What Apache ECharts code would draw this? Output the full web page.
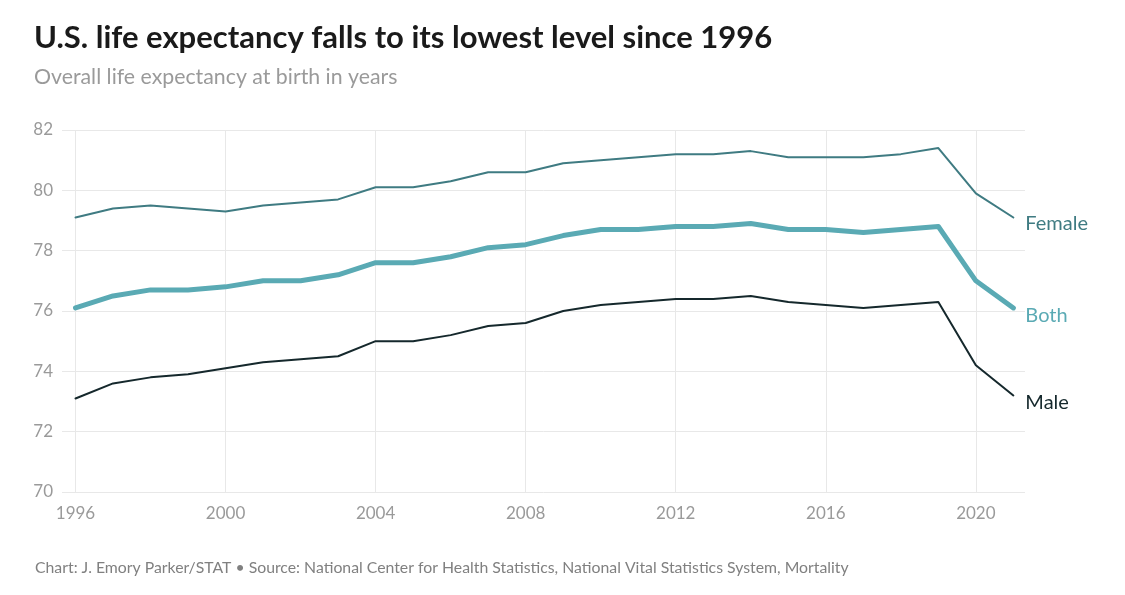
<!DOCTYPE html>
<html>
<head>
<meta charset="utf-8">
<script src="https://cdn.jsdelivr.net/npm/echarts@6/dist/echarts.min.js"></script>
<style>
html,body{margin:0;padding:0;background:#fff;}
#chart{width:1125px;height:595px;}
</style>
</head>
<body>
<div id="chart"></div>
<script>
var years = [1996,1997,1998,1999,2000,2001,2002,2003,2004,2005,2006,2007,2008,2009,2010,2011,2012,2013,2014,2015,2016,2017,2018,2019,2020,2021];
var female = [79.1,79.4,79.5,79.4,79.3,79.5,79.6,79.7,80.1,80.1,80.3,80.6,80.6,80.9,81.0,81.1,81.2,81.2,81.3,81.1,81.1,81.1,81.2,81.4,79.9,79.1];
var both = [76.1,76.5,76.7,76.7,76.8,77.0,77.0,77.2,77.6,77.6,77.8,78.1,78.2,78.5,78.7,78.7,78.8,78.8,78.9,78.7,78.7,78.6,78.7,78.8,77.0,76.1];
var male = [73.1,73.6,73.8,73.9,74.1,74.3,74.4,74.5,75.0,75.0,75.2,75.5,75.6,76.0,76.2,76.3,76.4,76.4,76.5,76.3,76.2,76.1,76.2,76.3,74.2,73.2];
var xTicks = [1996,2000,2004,2008,2012,2016,2020];

var FONT = 'Lato';

function pairs(vals){
	var out = [];
	for(var i=0;i<years.length;i++){
		out.push([years[i], vals[i]]);
	}
	return out;
}

function lineSeries(name, vals, color, width, labelOffset){
	return {
		name: name,
		type: 'line',
		data: pairs(vals),
		showSymbol: false,
		symbol: 'none',
		lineStyle: {color: color, width: width, join: 'round', cap: 'round'},
		endLabel: {
			show: true,
			formatter: '{a}',
			color: color,
			fontFamily: FONT,
			fontSize: 20,
			distance: 12,
			offset: labelOffset
		},
		emphasis: {disabled: true},
		silent: true,
		animation: false
	};
}

var myChart = echarts.init(document.getElementById('chart'));
var option = {
	backgroundColor: '#fff',
	animation: false,
	title: [{
		text: 'U.S. life expectancy falls to its lowest level since 1996',
		left: 29,
		top: 17,
		textStyle: {fontFamily: FONT, fontSize: 31, fontWeight: 'bold', color: '#1a1a1a'},
		subtext: 'Overall life expectancy at birth in years',
		subtextStyle: {fontFamily: FONT, fontSize: 21.3, color: '#9a9a9a'},
		itemGap: 14
	}, {
		text: 'Chart: J. Emory Parker/STAT \u2022 Source: National Center for Health Statistics, National Vital Statistics System, Mortality',
		left: 30,
		top: 555,
		textStyle: {fontFamily: FONT, fontSize: 15.8, fontWeight: 'normal', color: '#808080'}
	}],
	grid: {
		left: 62,
		right: 100,
		top: 130,
		bottom: 103,
		containLabel: false
	},
	xAxis: {
		type: 'value',
		min: 1995.64,
		max: 2021.31,
		axisLine: {show: false},
		axisTick: {show: false, customValues: xTicks},
		axisLabel: {
			customValues: xTicks,
			color: '#9a9a9a',
			fontFamily: FONT,
			fontSize: 17,
			margin: 13,
			formatter: function(v){ return String(v); }
		},
		splitLine: {show: true, lineStyle: {color: '#e8e8e8', width: 1}}
	},
	yAxis: {
		type: 'value',
		min: 70,
		max: 82,
		interval: 2,
		axisLine: {show: false},
		axisTick: {show: false},
		axisLabel: {color: '#9a9a9a', fontFamily: FONT, fontSize: 17, margin: 9},
		splitLine: {show: true, lineStyle: {color: '#e8e8e8', width: 1}}
	},
	series: [
		lineSeries('Female', female, '#3f7b82', 2, [0, 6]),
		lineSeries('Both', both, '#5aaab4', 5, [0, 8]),
		lineSeries('Male', male, '#15282c', 2, [0, 7])
	]
};
myChart.setOption(option);
</script>
</body>
</html>
